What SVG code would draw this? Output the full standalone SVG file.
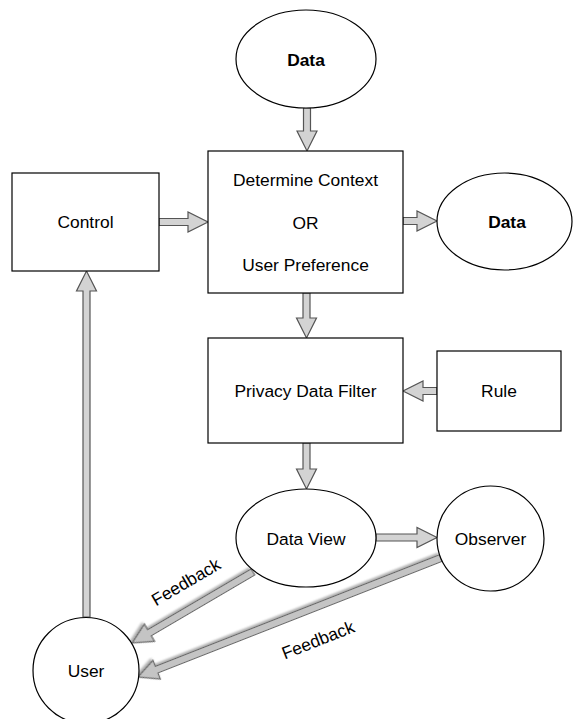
<svg xmlns="http://www.w3.org/2000/svg" width="574" height="719" viewBox="0 0 574 719">
<defs>
<style>
.shape{fill:#fff;stroke:#000;stroke-width:1.2}
.lbl{font-family:"Liberation Sans",Arial,Helvetica,sans-serif;font-size:17.4px;fill:#000;text-anchor:middle}
.b{font-weight:bold}
.arr{fill:#d3d3d3;stroke:#555;stroke-width:1.2;stroke-linejoin:miter}
.fb{fill:#c4c4c4;stroke:#666;stroke-width:1.2;filter:url(#sh)}
</style>
<filter id="sh" x="-10%" y="-10%" width="120%" height="130%">
<feDropShadow dx="1.5" dy="2" stdDeviation="0.8" flood-color="#888" flood-opacity="0.7"/>
</filter>
</defs>
<rect width="574" height="719" fill="#fff"/>

<g id="connectors">
<polygon class="arr" points="303.5,108 310.5,108 310.5,131 317,131 307,151 297,131 303.5,131"/>
<polygon class="arr" points="159,218.5 188,218.5 188,212 208,222 188,232 188,225.5 159,225.5"/>
<polygon class="arr" points="403,217.5 417,217.5 417,211 437,221 417,231 417,224.5 403,224.5"/>
<polygon class="arr" points="303,293 310,293 310,318 316.5,318 306.5,338 296.5,318 303,318"/>
<polygon class="arr" points="437,387.5 423,387.5 423,381 403,391 423,401 423,394.5 437,394.5"/>
<polygon class="arr" points="303,443 310,443 310,469 316.5,469 306.5,489 296.5,469 303,469"/>
<polygon class="arr" points="376,534 417,534 417,527.5 437,537.5 417,547.5 417,541 376,541"/>
<polygon class="arr" points="83,617 90,617 90,291 96.5,291 86.5,271 76.5,291 83,291"/>
<polygon class="fb" transform="translate(253,572) rotate(149.6)" points="0,-3.5 120,-3.5 120,-10 140,0 120,10 120,3.5 0,3.5"/>
<polygon class="fb" transform="translate(441,558) rotate(158.56)" points="0,-3.5 305.5,-3.5 305.5,-10 325.5,0 305.5,10 305.5,3.5 0,3.5"/>
<text class="lbl" transform="translate(186,582) rotate(-30.4)" x="0" y="6">Feedback</text>
<text class="lbl" transform="translate(318,640) rotate(-21.5)" x="0" y="6">Feedback</text>
</g>

<g id="data-top">
<ellipse class="shape" cx="306" cy="59" rx="70" ry="49"/>
<text class="lbl b" x="306" y="66">Data</text>
</g>

<g id="determine">
<rect class="shape" x="208" y="151" width="195" height="142"/>
<text class="lbl" x="305.5" y="186">Determine Context</text>
<text class="lbl" x="305.5" y="229">OR</text>
<text class="lbl" x="305.5" y="271">User Preference</text>
</g>

<g id="control">
<rect class="shape" x="12" y="173" width="147" height="98"/>
<text class="lbl" x="85.5" y="228">Control</text>
</g>

<g id="data-right">
<ellipse class="shape" cx="504.5" cy="221.5" rx="67.5" ry="48.5"/>
<text class="lbl b" x="507" y="228">Data</text>
</g>

<g id="privacy">
<rect class="shape" x="208" y="338" width="195" height="105"/>
<text class="lbl" x="305.5" y="397">Privacy Data Filter</text>
</g>

<g id="rule">
<rect class="shape" x="437" y="351" width="124" height="80"/>
<text class="lbl" x="499" y="397">Rule</text>
</g>

<g id="dataview">
<ellipse class="shape" cx="306" cy="538" rx="70" ry="49"/>
<text class="lbl" x="306" y="545">Data View</text>
</g>

<g id="observer">
<ellipse class="shape" cx="490.5" cy="538.5" rx="53.5" ry="52.5"/>
<text class="lbl" x="490.5" y="545">Observer</text>
</g>

<g id="user">
<circle class="shape" cx="86" cy="670.5" r="53"/>
<text class="lbl" x="86" y="677">User</text>
</g>
</svg>
